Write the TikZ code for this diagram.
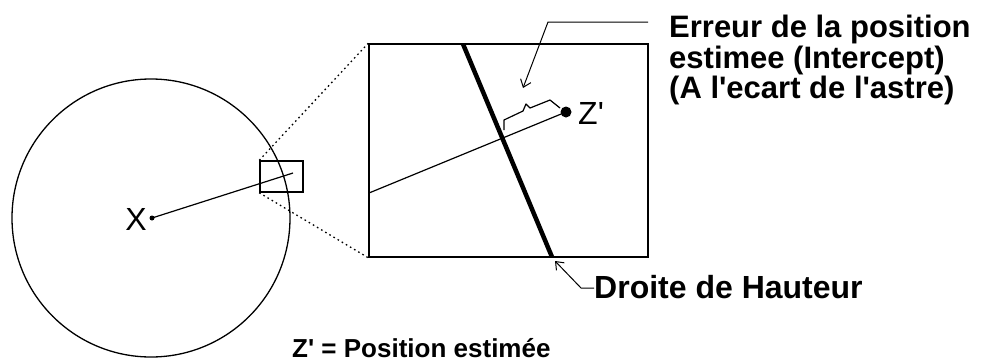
\documentclass[tikz,border=0pt]{standalone}
\usepackage{fontspec}
\setmainfont{Liberation Sans}
\usetikzlibrary{arrows.meta}
\begin{document}
\begin{tikzpicture}[x=1pt,y=-1pt,
  thinline/.style={line width=1.2pt},
  dotline/.style={line width=1.3pt,dash pattern=on 1.6pt off 3.2pt},
  frame/.style={draw,line width=1.5pt,inner sep=0pt,rectangle},
  leader/.style={line width=1pt,-{Straight Barb[length=7pt,width=11pt,line width=1pt]}},
  lbl/.style={font=\fontsize{31}{31}\selectfont\bfseries,anchor=base west,inner sep=0pt},
  plain/.style={font=\fontsize{32}{32}\selectfont,inner sep=0pt}]
\useasboundingbox (0,0) rectangle (982,362);
% circle
\node[draw,circle,line width=1.3pt,minimum size=278pt,inner sep=0pt] (circ) at (151,218) {};
\node[circle,fill,minimum size=5pt,inner sep=0pt] (cd) at (152,218) {};
\node[plain,anchor=east] (xl) at (147,219) {X};
% small frame
\node[frame,minimum width=43pt,minimum height=31pt] (sr) at (281.5,176.5) {};
\coordinate (se) at (293,173);
\draw[thinline] (cd.center) -- (se);
% big frame
\node[frame,minimum width=279pt,minimum height=213pt] (br) at (508.5,150.5) {};
\draw[dotline] (sr.north west) -- (br.north west);
\draw[dotline] (sr.south west) -- (br.south west);
% contents of big frame
\coordinate (dt) at (463,44);
\coordinate (db) at (552,257);
\draw[line width=4.5pt] (dt) -- (db);
\node[circle,fill,minimum size=11pt,inner sep=0pt] (zd) at (566,112) {};
\coordinate (lin) at (369,193);
\draw[thinline] (lin) -- (zd.center);
\node[plain,anchor=base west] (zl) at (578,124) {Z\textquotesingle};
% bracket
\draw[line width=1.2pt,line join=round] (504,130) -- (504,120) -- (523,111) -- (526,104) -- (530,108) -- (550,100) -- (560,108);
% leader for intercept
\coordinate (h1) at (648,22);
\coordinate (h2) at (548,22);
\coordinate (a1) at (523,88);
\draw[leader] (h1) -- (h2) -- (a1);
\node[lbl] (t1) at (669,37) {Erreur de la position};
\node[lbl] (t2) at (669,68) {estimee (Intercept)};
\node[lbl] (t3) at (669,98) {(A l\textquotesingle ecart de l\textquotesingle astre)};
% leader for droite
\node[lbl,font=\fontsize{32}{32}\selectfont\bfseries] (dh) at (594,298) {Droite de Hauteur};
\coordinate (k1) at (581,288);
\coordinate (k2) at (555,261);
\draw[leader] (dh.west |- k1) -- (k1) -- (k2);
% bottom legend
\node[lbl,font=\fontsize{26}{26}\selectfont\bfseries] (leg) at (292,357) {Z\textquotesingle\ = Position estimée};
\end{tikzpicture}
\end{document}
